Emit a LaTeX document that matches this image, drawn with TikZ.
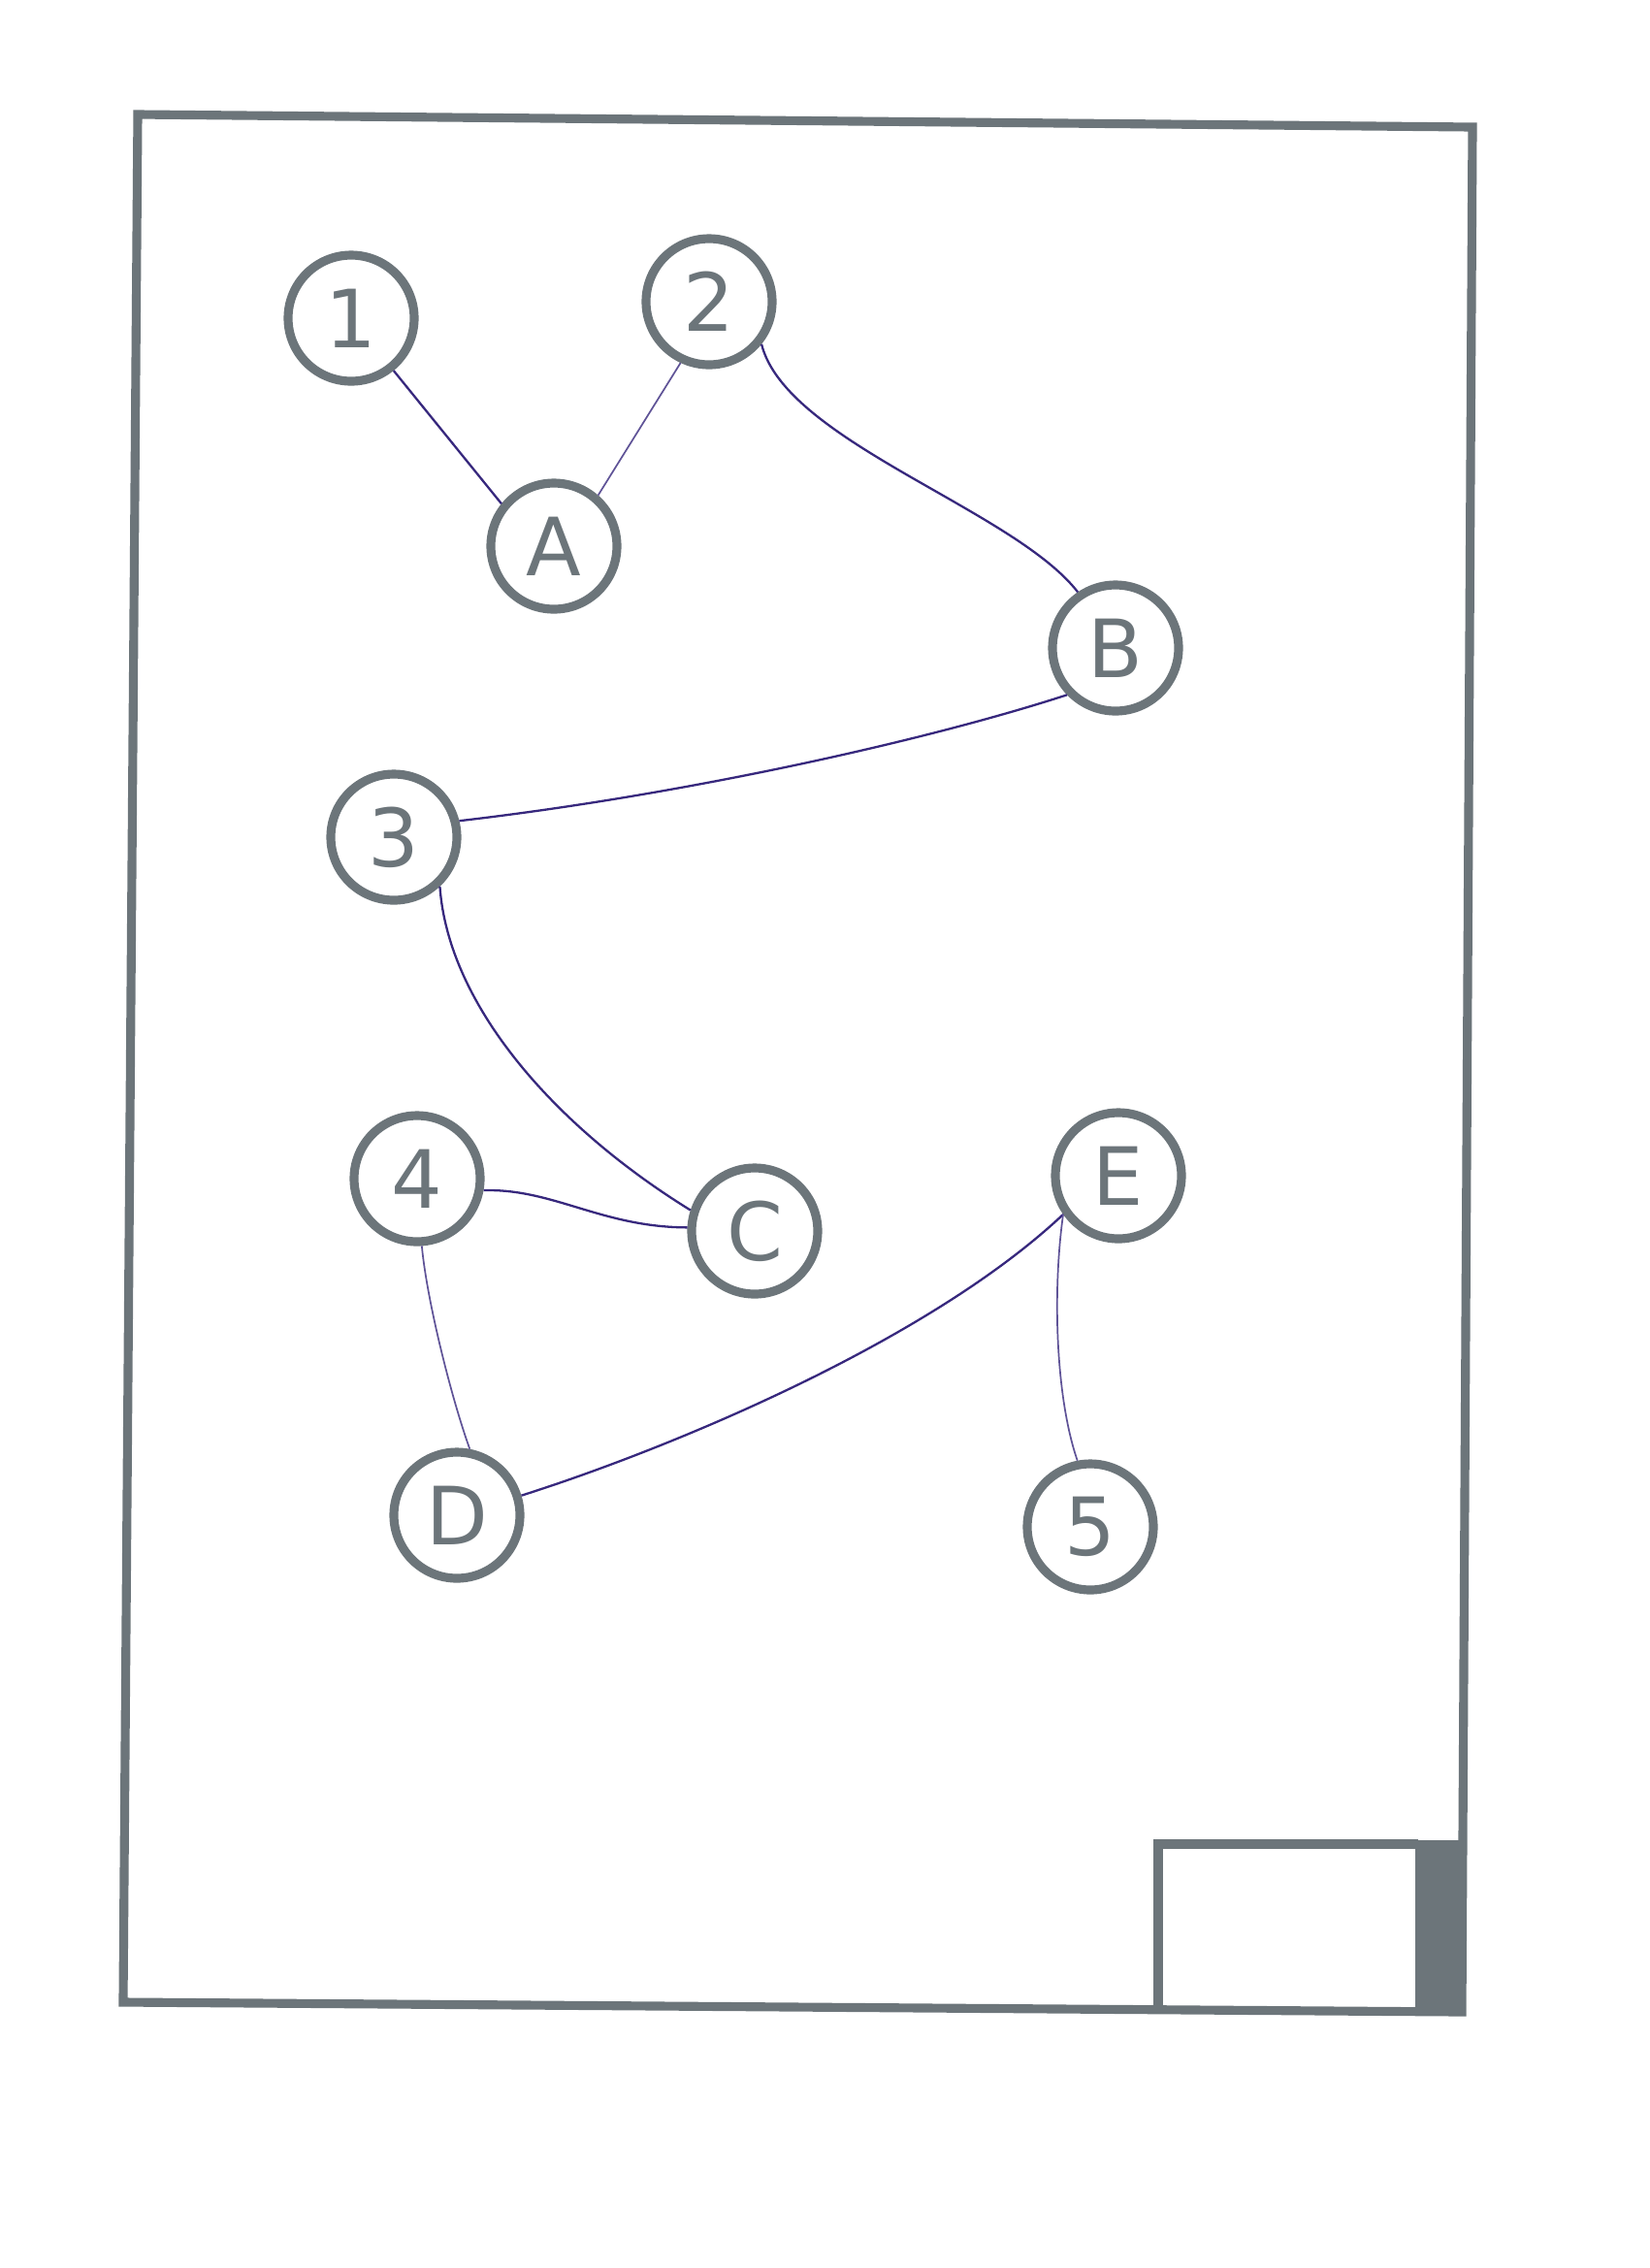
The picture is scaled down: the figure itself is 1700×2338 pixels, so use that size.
\documentclass[tikz,border=0pt]{standalone}
\usepackage{fontspec}
\setmainfont{DejaVu Sans}
\usepackage{tikz}
\definecolor{slate}{RGB}{108,117,122}
\definecolor{ink}{RGB}{55,40,125}
\tikzset{
  vertex/.style={circle, draw=slate, line width=3.2pt, minimum size=45.5pt, inner sep=0pt,
    text=slate, font=\fontsize{29}{33}\selectfont},
  frameline/.style={draw=slate, line width=3.2pt, line join=miter},
  edge/.style={draw=ink, line width=0.8pt},
  edgelight/.style={draw=ink!80, line width=0.6pt}
}

\begin{document}
\begin{tikzpicture}[x=0.35pt,y=-0.35pt]
\fill[white] (0,0) rectangle (1700,2338);
\useasboundingbox (0,0) rectangle (1700,2338);
\draw[frameline] (142,118) -- (1518,131) -- (1507,2074) -- (127,2064) -- cycle;
\fill[slate] (1459,1897) rectangle (1511,2078);
\draw[frameline] (1194,2070) -- (1194,1901) -- (1462,1901);

\node[vertex] (n1) at (362,328) {1};
\node[vertex] (n2) at (731,311) {2};
\node[vertex] (nA) at (571,563) {A};
\node[vertex] (nB) at (1150,668) {B};
\node[vertex] (n3) at (406,863) {3};
\node[vertex] (n4) at (430,1215) {4};
\node[vertex] (nC) at (778,1269) {C};
\node[vertex] (nE) at (1153,1212) {E};
\node[vertex] (nD) at (471,1562) {D};
\node[vertex] (n5) at (1124,1574) {5};

\draw[edge] (n1.-51) -- (nA.141);
\draw[edgelight] (n2.-115) -- (nA.49);
\draw[edge] (n2.-39) .. controls (810,455) and (1045,525) .. (nB.124);
\draw[edge] (nB.-136) .. controls (950,765) and (700,820) .. (n3.14);
\draw[edge] (n3.-47) .. controls (462,1035) and (570,1160) .. (nC.162);
\draw[edge] (n4.-10) .. controls (570,1225) and (620,1265) .. (nC.177);
\draw[edgelight] (n4.-86) .. controls (440,1340) and (465,1440) .. (nD.79);
\draw[edge] (nD.17) .. controls (700,1490) and (960,1380) .. (nE.-145);
\draw[edgelight] (nE.-145) .. controls (1085,1330) and (1088,1440) .. (n5.101);
\end{tikzpicture}
\end{document}
